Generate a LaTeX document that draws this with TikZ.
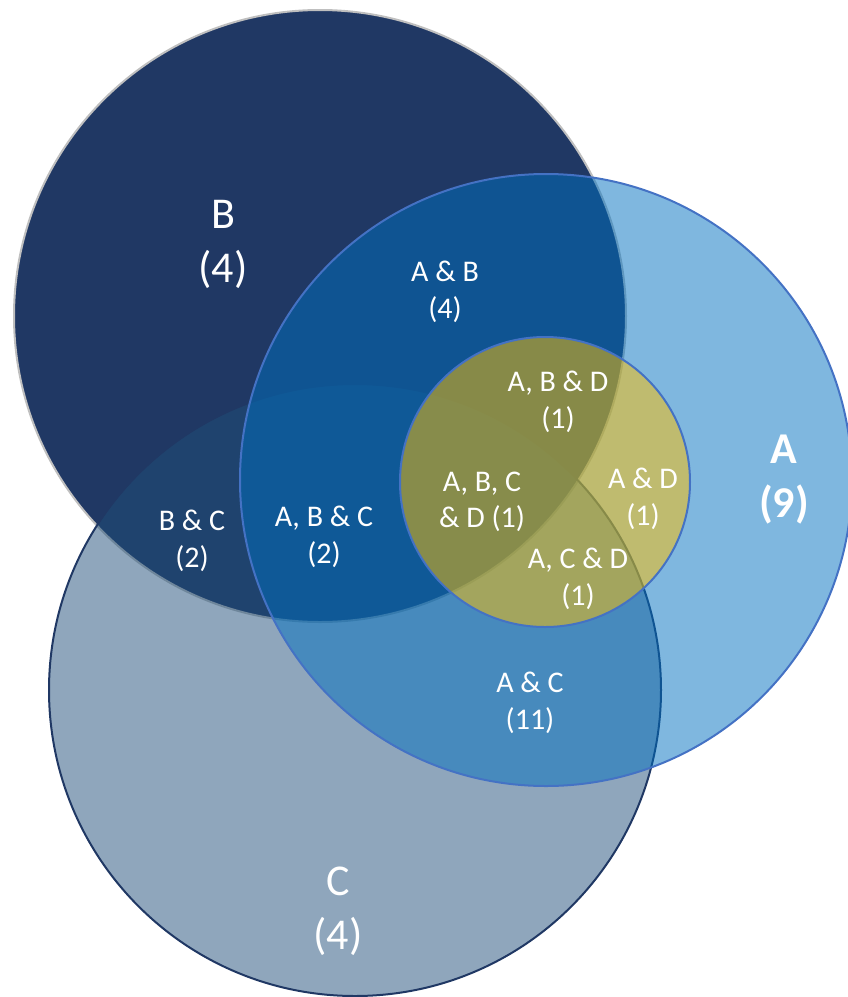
\documentclass[tikz,border=0pt]{standalone}
\usepackage{fontspec}
\setmainfont{Carlito}
\definecolor{bfill}{HTML}{203864}
\definecolor{bline}{HTML}{BFBFBF}
\definecolor{cfill}{HTML}{1F4E79}
\definecolor{cline}{HTML}{203864}
\definecolor{afill}{HTML}{0070C0}
\definecolor{aline}{HTML}{4472C4}
\definecolor{dfill}{HTML}{FFC000}
\tikzset{
  big/.style={text=white, align=center, font=\fontsize{33}{40.5}\selectfont, inner sep=0pt},
  bigbold/.style={text=white, align=center, font=\fontsize{33}{40.5}\selectfont\bfseries, inner sep=0pt},
  small/.style={text=white, align=center, font=\fontsize{22.5}{27.5}\selectfont, inner sep=0pt},
  setline/.style={line width=1.5pt}
}
\begin{document}
\begin{tikzpicture}[x=0.75pt,y=-0.75pt]
\useasboundingbox (0,0) rectangle (848,997);
\begin{scope}
\clip (0,0) rectangle (848,997);
% B
\fill[bfill] (320,316) circle (306);
\draw[setline, bline] (320,316) circle (306);
% C
\fill[cfill, fill opacity=0.5] (355,690) circle (306);
\draw[setline, cline] (355,690) circle (306);
% A
\fill[afill, fill opacity=0.5] (546,480) circle (306);
\draw[setline, aline] (546,480) circle (306);
% D
\fill[dfill, fill opacity=0.5] (545,482) circle (145);
\draw[setline, aline] (545,482) circle (145);
\end{scope}
% labels
\node[big] (lb) at (223,244) {B\\(4)};
\node[bigbold] (la) at (784,480) {A\\(9)};
\node[big] (lc) at (338,911) {C\\(4)};
\node[small] (lab) at (445,292) {A \& B\\(4)};
\node[small] (lbc) at (192,541) {B \& C\\(2)};
\node[small] (labc) at (324,537) {A, B \& C\\(2)};
\node[small] (lac) at (530,703) {A \& C\\(11)};
\node[small] (labd) at (558,402) {A, B \& D\\(1)};
\node[small] (labcd) at (482,502) {A, B, C\\\& D (1)};
\node[small] (lad) at (643,499) {A \& D\\(1)};
\node[small] (lacd) at (578,579) {A, C \& D\\(1)};
\end{tikzpicture}
\end{document}
